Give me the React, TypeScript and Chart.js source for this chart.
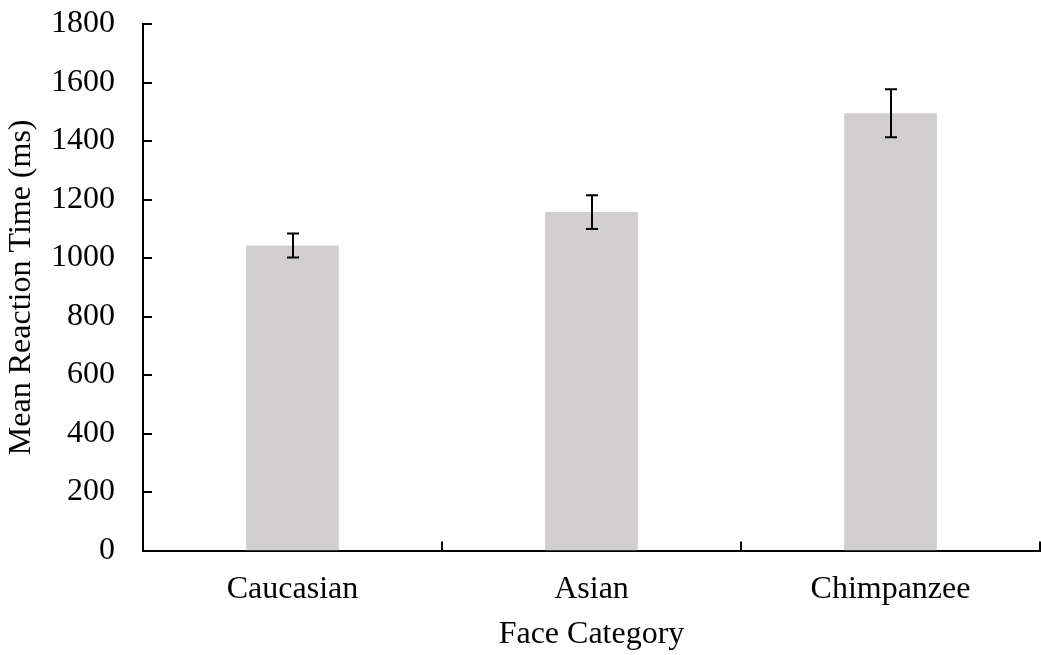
import React, { useEffect, useRef } from "react";
import { Chart, registerables } from "chart.js";

Chart.register(...registerables);

const categories = ["Caucasian", "Asian", "Chimpanzee"];
const meanRT = [1043, 1157, 1495];
const errorRT = [41, 58, 82];
const yTicks = [0, 200, 400, 600, 800, 1000, 1200, 1400, 1600, 1800];
const xTitle = "Face Category";
const yTitle = "Mean Reaction Time (ms)";

const FONT = "'Liberation Serif', 'Times New Roman', serif";

// Error bars, inward tick marks and the two axis titles
const errorBarsAndTicks = {
  id: "errorBarsAndTicks",
  afterDatasetsDraw(chart: any) {
    const ctx = chart.ctx;
    const x = chart.scales.x;
    const y = chart.scales.y;
    const area = chart.chartArea;
    ctx.save();
    ctx.strokeStyle = "#000";
    ctx.lineWidth = 2;
    const meta = chart.getDatasetMeta(0);
    meta.data.forEach((bar: any, i: number) => {
      const cx = Math.round(bar.x);
      const top = y.getPixelForValue(meanRT[i] + errorRT[i]);
      const bot = y.getPixelForValue(meanRT[i] - errorRT[i]);
      ctx.beginPath();
      ctx.moveTo(cx, top);
      ctx.lineTo(cx, bot);
      ctx.moveTo(cx - 6, top);
      ctx.lineTo(cx + 6, top);
      ctx.moveTo(cx - 6, bot);
      ctx.lineTo(cx + 6, bot);
      ctx.stroke();
    });
    yTicks.forEach((v) => {
      const py = Math.round(y.getPixelForValue(v));
      ctx.beginPath();
      ctx.moveTo(area.left, py);
      ctx.lineTo(area.left + 9, py);
      ctx.stroke();
    });
    for (let i = 1; i <= categories.length; i++) {
      const px = Math.round(x.left + (x.width * i) / categories.length);
      ctx.beginPath();
      ctx.moveTo(px, area.bottom);
      ctx.lineTo(px, area.bottom - 9);
      ctx.stroke();
    }
    ctx.fillStyle = "#000";
    ctx.font = `32px ${FONT}`;
    ctx.textAlign = "center";
    ctx.textBaseline = "alphabetic";
    ctx.fillText(xTitle, (area.left + area.right) / 2, 643);
    ctx.translate(22, (area.top + area.bottom) / 2);
    ctx.rotate(-Math.PI / 2);
    ctx.textBaseline = "middle";
    ctx.fillText(yTitle, 0, 0);
    ctx.restore();
  },
};

export default function App() {
  const ref = useRef<HTMLCanvasElement>(null);
  useEffect(() => {
    document.body.style.margin = "0";
    const chart = new Chart(ref.current!, {
      type: "bar",
      data: {
        labels: categories,
        datasets: [
          {
            data: meanRT,
            backgroundColor: "#d0cece",
            barPercentage: 0.31,
            categoryPercentage: 1,
          },
        ],
      },
      options: {
        animation: false,
        responsive: false,
        layout: { padding: { top: 24, right: 1, left: 23, bottom: 26 } },
        plugins: { legend: { display: false }, tooltip: { enabled: false } },
        scales: {
          x: {
            grid: { display: false, drawTicks: false },
            border: { display: true, color: "#000", width: 2 },
            ticks: { color: "#000", font: { family: FONT, size: 32 }, padding: 20 },
          },
          y: {
            min: 0,
            max: 1800,
            afterBuildTicks: (axis: any) => {
              axis.ticks = yTicks.map((v) => ({ value: v }));
            },
            afterFit: (axis: any) => {
              axis.paddingTop = 0;
              axis.paddingBottom = 0;
            },
            grid: { display: false, drawTicks: false },
            border: { display: true, color: "#000", width: 2 },
            ticks: {
              color: "#000",
              font: { family: FONT, size: 32 },
              padding: 28,
              callback: (v: any) => String(v),
            },
          },
        },
      },
      plugins: [errorBarsAndTicks],
    });
    return () => chart.destroy();
  }, []);
  return (
    <div style={{ width: 1041, height: 655, background: "#fff" }}>
      <canvas ref={ref} width={1041} height={655} />
    </div>
  );
}
